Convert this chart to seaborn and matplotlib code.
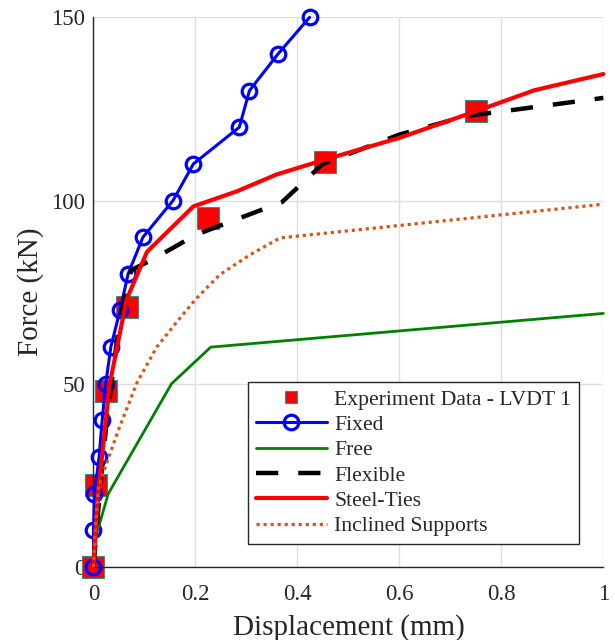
import numpy as np
import pandas as pd
import matplotlib
matplotlib.use("Agg")
import matplotlib.pyplot as plt
import seaborn as sns

# ---- data ----
exp_x = [0.0, 0.005, 0.025, 0.066, 0.225, 0.454, 0.751]
exp_y = [0.0, 22.5, 48.0, 71.0, 95.2, 110.6, 124.3]

fixed_x = [0.0, 0.0, 0.002, 0.011, 0.017, 0.024, 0.034, 0.052, 0.068, 0.097, 0.156, 0.196, 0.286, 0.306, 0.362, 0.424]
fixed_y = [0, 10, 20, 30, 40, 50, 60, 70, 80, 90, 100, 110, 120, 130, 140, 150]

free_x = [0.0, 0.004, 0.029, 0.153, 0.23, 1.0]
free_y = [0.0, 8.0, 20.0, 50.0, 60.0, 69.2]

flex_x = [0.0, 0.012, 0.026, 0.05, 0.074, 0.117, 0.2, 0.37, 0.45, 0.6, 0.73, 1.0]
flex_y = [0.0, 20.0, 40.0, 66.0, 81.0, 84.0, 90.6, 99.6, 110.0, 118.0, 123.0, 128.0]

steel_x = [0.0, 0.009, 0.032, 0.065, 0.105, 0.196, 0.281, 0.359, 0.45, 0.6, 0.751, 0.865, 1.0]
steel_y = [0.0, 20.0, 50.0, 73.0, 86.0, 98.4, 102.5, 107.1, 111.0, 117.1, 124.4, 130.1, 134.5]

incl_x = [0.0, 0.003, 0.009, 0.019, 0.049, 0.085, 0.124, 0.163, 0.2, 0.248, 0.307, 0.366, 1.0]
incl_y = [0.0, 9.0, 21.0, 25.6, 37.4, 50.2, 60.0, 66.8, 73.0, 79.8, 85.2, 89.8, 99.0]

x_ticks = [0, 0.2, 0.4, 0.6, 0.8, 1]
x_ticklabels = ["0", "0.2", "0.4", "0.6", "0.8", "1"]
y_ticks = [0, 50, 100, 150]
y_ticklabels = ["0", "50", "100", "150"]

labels = ["Experiment Data - LVDT 1", "Fixed", "Free", "Flexible", "Steel-Ties", "Inclined Supports"]

# ---- style ----
sns.set_theme(style="white")
plt.rcParams['font.family'] = ['Liberation Serif', 'DejaVu Serif']

fig = plt.figure(figsize=(6.15, 6.40), dpi=100)
ax = fig.add_axes([0.152, 0.114, 0.829, 0.859])

sns.lineplot(x=exp_x, y=exp_y, ax=ax, sort=False, estimator=None, linestyle='none',
             marker='s', markersize=16.5, markerfacecolor='#ff0000', markeredgecolor='#2f8f8f',
             markeredgewidth=0.8, color='#ff0000', label=labels[0], zorder=2)
sns.lineplot(x=fixed_x, y=fixed_y, ax=ax, sort=False, estimator=None, color='#0000ff',
             linewidth=2.2, marker='o', markersize=10.5, markerfacecolor='none',
             markeredgecolor='#0000ff', markeredgewidth=2.3, label=labels[1], zorder=3)
sns.lineplot(x=free_x, y=free_y, ax=ax, sort=False, estimator=None, color='#008000',
             linewidth=2.0, label=labels[2], zorder=3)
sns.lineplot(x=flex_x, y=flex_y, ax=ax, sort=False, estimator=None, color='black',
             linewidth=3.2, dashes=False, label=labels[3], zorder=3)
ax.lines[-1].set_linestyle((0, (5, 4.5)))
sns.lineplot(x=steel_x, y=steel_y, ax=ax, sort=False, estimator=None, color='#ff0000',
             linewidth=3.0, label=labels[4], zorder=3)
sns.lineplot(x=incl_x, y=incl_y, ax=ax, sort=False, estimator=None, color='#d95319',
             linewidth=2.3, label=labels[5], zorder=3)
ax.lines[-1].set_linestyle((0, (1, 1.2)))
for ln in ax.lines:
    ln.set_clip_on(False)

ax.set_xlim(0, 1)
ax.set_ylim(0, 150)
ax.set_xticks(x_ticks)
ax.set_xticklabels(x_ticklabels)
ax.set_yticks(y_ticks)
ax.set_yticklabels(y_ticklabels)
ax.grid(True, color='#dfdfdf', linewidth=1.0)
ax.set_axisbelow(True)
for s in ['top', 'right']:
    ax.spines[s].set_visible(False)
for s in ['left', 'bottom']:
    ax.spines[s].set_color('#262626')
    ax.spines[s].set_linewidth(1.0)
ax.tick_params(axis='both', direction='in', length=4, width=1.0, color='#262626',
               labelsize=16.5, labelcolor='#262626')
ax.tick_params(axis='x', pad=12)
ax.tick_params(axis='y', pad=6)
ax.set_xlabel("Displacement (mm)", fontsize=21, color='#262626', labelpad=7)
ax.set_ylabel("Force (kN)", fontsize=21, color='#262626', labelpad=5)

leg = ax.legend(loc='lower right', bbox_to_anchor=(0.952, 0.042), fontsize=15.6,
                frameon=True, fancybox=False, framealpha=1, edgecolor='#262626',
                handlelength=3.3, handletextpad=0.32, borderpad=0.35, labelspacing=0.24,
                borderaxespad=0)
leg.get_frame().set_linewidth(1.0)
h0 = leg.legend_handles[0]
h0.set_markersize(8)

fig.savefig("out.png", dpi=100)
